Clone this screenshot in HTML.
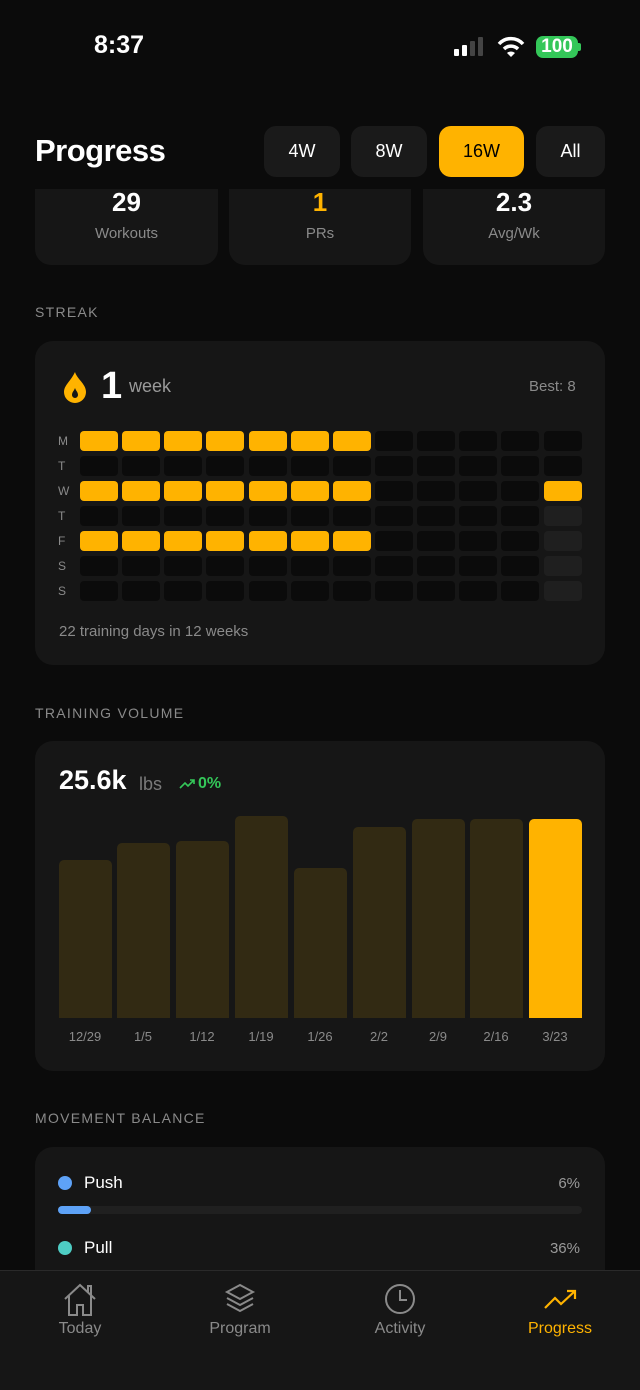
<!DOCTYPE html>
<html><head><meta charset="utf-8"><style>
*{margin:0;padding:0;box-sizing:border-box}
body{width:640px;height:1390px;background:#0b0b0b;font-family:"Liberation Sans",sans-serif;color:#fff;position:relative;overflow:hidden}
.a{position:absolute}
.card{position:absolute;background:#161616;border-radius:18px}
.sec{position:absolute;left:35px;font-size:14px;letter-spacing:1.3px;color:#8a8a8a}
.btn{position:absolute;top:126px;height:51px;border-radius:12px;background:#1a1a1a;font-size:18px;text-align:center;line-height:51px}
.c{position:absolute;width:38px;height:20px;border-radius:4px;background:#0b0b0b}
.y{background:#ffb300}
.dl{position:absolute;left:58px;font-size:12px;color:#8a8a8a}
.bar{position:absolute;width:53px;border-radius:5px 5px 0 0;background:#322a13}
.xl{position:absolute;top:1029px;width:60px;text-align:center;font-size:13px;color:#8a8a8a}
.tab{position:absolute;top:1320px;width:160px;text-align:center;font-size:16px;color:#8a8a8a}
</style></head><body>
<div class="a" style="left:94px;top:31px;font-size:25px;font-weight:bold">8:37</div>
<div class="a" style="left:454px;top:49px;width:5px;height:7px;background:#fff;border-radius:1px"></div>
<div class="a" style="left:462px;top:45px;width:5px;height:11px;background:#fff;border-radius:1px"></div>
<div class="a" style="left:470px;top:41px;width:5px;height:15px;background:#444;border-radius:1px"></div>
<div class="a" style="left:478px;top:37px;width:5px;height:19px;background:#444;border-radius:1px"></div>
<svg class="a" style="left:497px;top:36px" width="28" height="22" viewBox="0 0 28 22"><path d="M2 8 A16 16 0 0 1 26 8" stroke="#fff" stroke-width="3.5" fill="none"/><path d="M7 13 A10 10 0 0 1 21 13" stroke="#fff" stroke-width="3.5" fill="none"/><path d="M10 17 L14 21 L18 17 A6 6 0 0 0 10 17Z" fill="#fff"/></svg>
<div class="a" style="left:536px;top:36px;width:42px;height:22px;background:#34c759;border-radius:7px;font-size:19px;font-weight:bold;text-align:center;line-height:22px">100</div>
<div class="a" style="left:578px;top:43px;width:3px;height:8px;background:#34c759;border-radius:0 2px 2px 0"></div>

<div class="a" style="left:35px;top:133px;font-size:31px;font-weight:bold;letter-spacing:-0.5px">Progress</div>
<div class="btn" style="left:264px;width:76px">4W</div>
<div class="btn" style="left:351px;width:76px">8W</div>
<div class="btn" style="left:439px;width:85px;background:#ffb300;color:#000">16W</div>
<div class="btn" style="left:536px;width:69px">All</div>

<div class="card" style="left:35px;top:189px;width:183px;height:76px;border-radius:0 0 16px 16px"></div>
<div class="card" style="left:229px;top:189px;width:182px;height:76px;border-radius:0 0 16px 16px"></div>
<div class="card" style="left:423px;top:189px;width:182px;height:76px;border-radius:0 0 16px 16px"></div>
<div class="a" style="left:35px;width:183px;top:187px;text-align:center;font-size:26px;font-weight:bold">29</div>
<div class="a" style="left:229px;width:182px;top:187px;text-align:center;font-size:26px;font-weight:bold;color:#ffb300">1</div>
<div class="a" style="left:423px;width:182px;top:187px;text-align:center;font-size:26px;font-weight:bold">2.3</div>
<div class="a" style="left:35px;width:183px;top:225px;text-align:center;font-size:15px;color:#8a8a8a">Workouts</div>
<div class="a" style="left:229px;width:182px;top:225px;text-align:center;font-size:15px;color:#8a8a8a">PRs</div>
<div class="a" style="left:423px;width:182px;top:225px;text-align:center;font-size:15px;color:#8a8a8a">Avg/Wk</div>

<div class="sec" style="top:304px">STREAK</div>
<div class="card" style="left:35px;top:341px;width:570px;height:324px"></div>
<svg class="a" style="left:63px;top:371px" width="24" height="32" viewBox="0 0 24 32"><path d="M12 1 C14 8 23 13 23 21 A11 11 0 0 1 1 21 C1 14 8 10 12 1Z" fill="#ffb300"/><path d="M12 17 C13 20 15 21 15 24 A3 3 0 0 1 9 24 C9 21 11 20 12 17Z" fill="#161616"/></svg>
<div class="a" style="left:101px;top:365px;font-size:38px;font-weight:bold">1</div>
<div class="a" style="left:129px;top:376px;font-size:18px;color:#9a9a9a">week</div>
<div class="a" style="left:529px;top:378px;font-size:15px;color:#8a8a8a">Best: 8</div>
<div class="dl" style="top:434px">M</div><div class="dl" style="top:459px">T</div><div class="dl" style="top:484px">W</div><div class="dl" style="top:509px">T</div><div class="dl" style="top:534px">F</div><div class="dl" style="top:559px">S</div><div class="dl" style="top:584px">S</div>
<div id="g"></div>
<div class="a" style="left:59px;top:623px;font-size:15px;color:#8a8a8a">22 training days in 12 weeks</div>

<div class="sec" style="top:705px">TRAINING VOLUME</div>
<div class="card" style="left:35px;top:741px;width:570px;height:330px"></div>
<div class="a" style="left:59px;top:765px;font-size:27px;font-weight:bold">25.6k</div>
<div class="a" style="left:139px;top:774px;font-size:18px;color:#7a7a7a">lbs</div>
<svg class="a" style="left:179px;top:778px" width="17" height="12" viewBox="0 0 17 12"><path d="M1 10 L6 5 L9 8 L15 2 M11 2 H15 V6" stroke="#34c759" stroke-width="1.6" fill="none"/></svg>
<div class="a" style="left:198px;top:775px;font-size:16px;font-weight:bold;color:#34c759">0%</div>
<div class="bar" style="left:59px;top:860px;height:158px"></div>
<div class="bar" style="left:117px;top:843px;height:175px"></div>
<div class="bar" style="left:176px;top:841px;height:177px"></div>
<div class="bar" style="left:235px;top:816px;height:202px"></div>
<div class="bar" style="left:294px;top:868px;height:150px"></div>
<div class="bar" style="left:353px;top:827px;height:191px"></div>
<div class="bar" style="left:412px;top:819px;height:199px"></div>
<div class="bar" style="left:470px;top:819px;height:199px"></div>
<div class="bar" style="left:529px;top:819px;height:199px;background:#ffb300"></div>
<div class="xl" style="left:55px">12/29</div><div class="xl" style="left:113px">1/5</div><div class="xl" style="left:172px">1/12</div><div class="xl" style="left:231px">1/19</div><div class="xl" style="left:290px">1/26</div><div class="xl" style="left:349px">2/2</div><div class="xl" style="left:408px">2/9</div><div class="xl" style="left:466px">2/16</div><div class="xl" style="left:525px">3/23</div>

<div class="sec" style="top:1110px">MOVEMENT BALANCE</div>
<div class="card" style="left:35px;top:1147px;width:570px;height:200px"></div>
<div class="a" style="left:58px;top:1176px;width:14px;height:14px;border-radius:50%;background:#5ea2f7"></div>
<div class="a" style="left:84px;top:1173px;font-size:17px">Push</div>
<div class="a" style="left:540px;top:1175px;width:40px;text-align:right;font-size:15px;color:#9a9a9a">6%</div>
<div class="a" style="left:58px;top:1206px;width:524px;height:8px;border-radius:4px;background:#202020"></div>
<div class="a" style="left:58px;top:1206px;width:33px;height:8px;border-radius:4px;background:#5ea2f7"></div>
<div class="a" style="left:58px;top:1241px;width:14px;height:14px;border-radius:50%;background:#4ecdc4"></div>
<div class="a" style="left:84px;top:1238px;font-size:17px">Pull</div>
<div class="a" style="left:530px;top:1240px;width:50px;text-align:right;font-size:15px;color:#9a9a9a">36%</div>

<div class="a" style="left:0;top:1270px;width:640px;height:120px;background:#161616;border-top:1px solid #2a2a2a"></div>
<svg class="a" style="left:63px;top:1283px" width="34" height="34" viewBox="0 0 34 34" fill="none" stroke="#8a8a8a" stroke-width="2"><path d="M2 16 L17 2 L32 16 M6 13 V32 H14 V22 H20 V32 H28 V13 M25 9 V3 H28 V12"/></svg>
<svg class="a" style="left:224px;top:1283px" width="32" height="34" viewBox="0 0 32 34" fill="none" stroke="#8a8a8a" stroke-width="2"><path d="M16 2 L29 9 L16 16 L3 9Z M3 15 L16 22 L29 15 M3 21 L16 28 L29 21"/></svg>
<svg class="a" style="left:384px;top:1283px" width="32" height="32" viewBox="0 0 32 32" fill="none" stroke="#8a8a8a" stroke-width="2"><circle cx="16" cy="16" r="14"/><path d="M16 7 V17 H23"/></svg>
<svg class="a" style="left:543px;top:1288px" width="36" height="24" viewBox="0 0 36 24" fill="none" stroke="#ffb300" stroke-width="2.2"><path d="M2 20 L12 10 L18 16 L32 3 M24 3 H32 V11"/></svg>
<div class="tab" style="left:0">Today</div>
<div class="tab" style="left:160px">Program</div>
<div class="tab" style="left:320px">Activity</div>
<div class="tab" style="left:480px;color:#ffb300">Progress</div>
<script>
var xs=[80,122,164,206,249,291,333,375,417,459,501,544],h='';
for(var r=0;r<7;r++)for(var c=0;c<12;c++){
var y=(r==0||r==2||r==4)&&c<7||(r==2&&c==11);
var bg=y?'':(c==11&&r>2?'background:#1f1f1f':'');
h+='<div class="c'+(y?' y':'')+'" style="left:'+xs[c]+'px;top:'+(431+r*25)+'px;'+bg+'"></div>';}
document.getElementById('g').innerHTML=h;
</script>
</body></html>
